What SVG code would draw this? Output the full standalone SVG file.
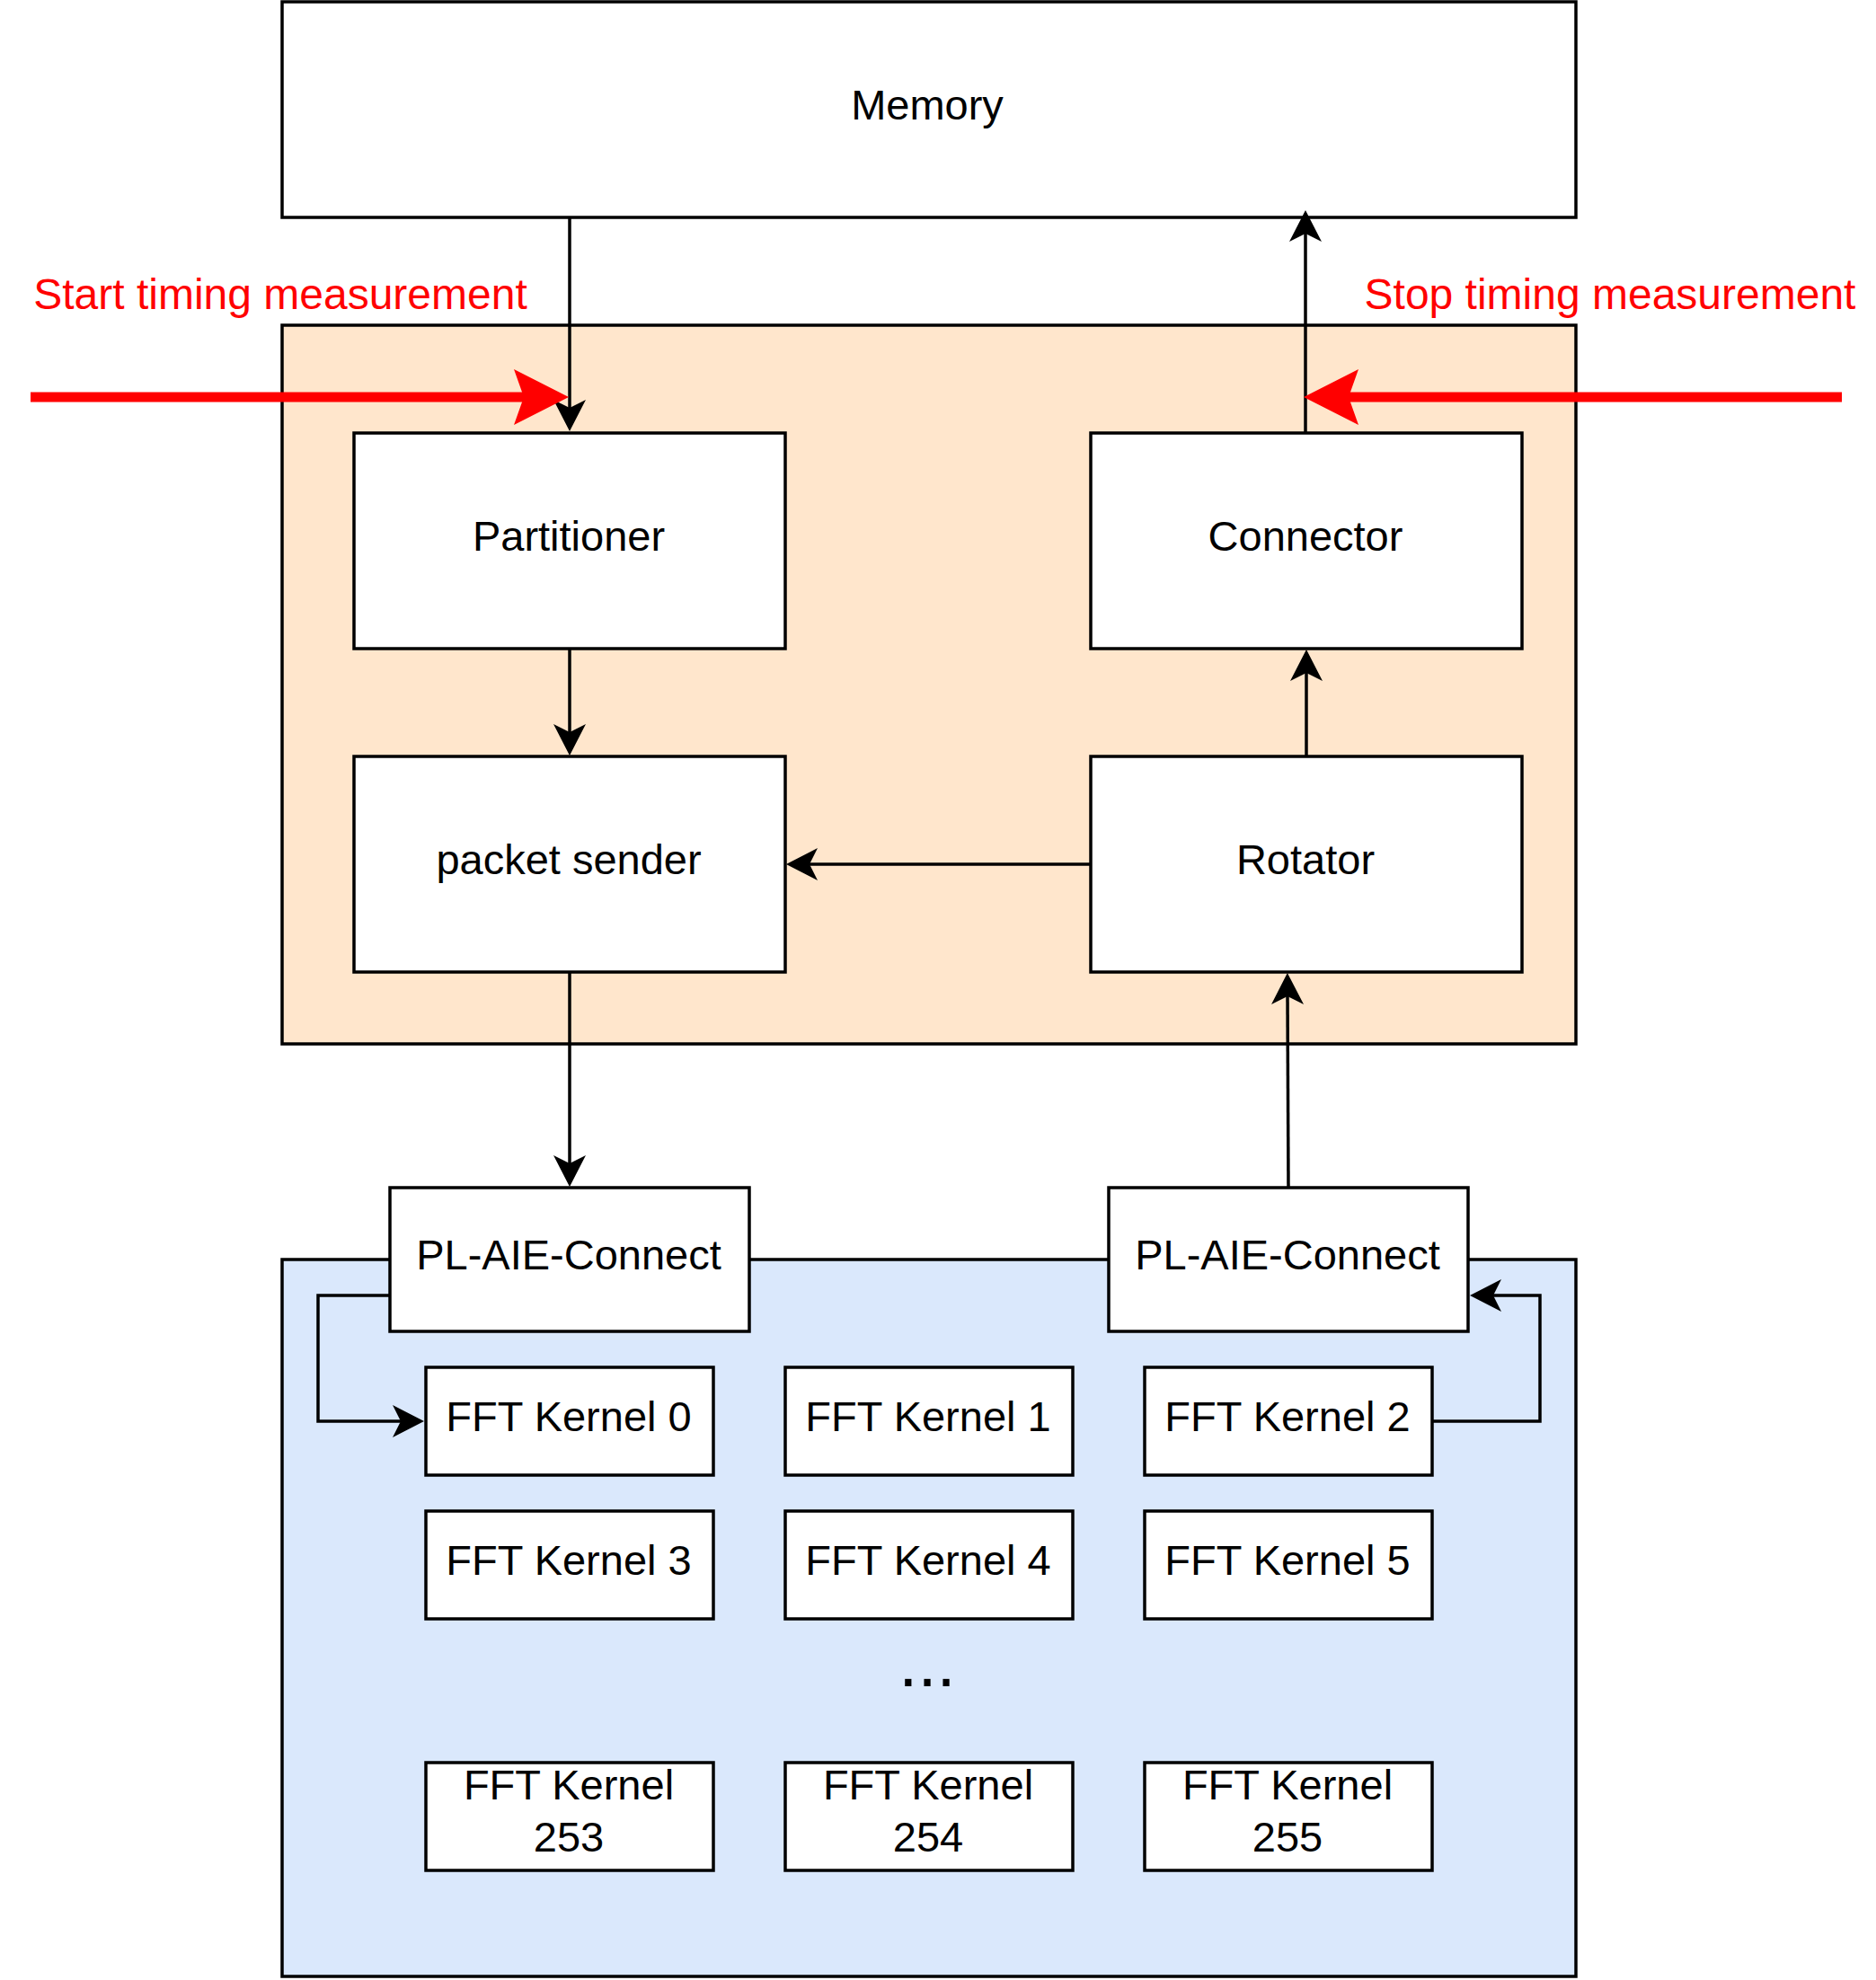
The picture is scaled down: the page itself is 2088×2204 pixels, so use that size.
<svg xmlns="http://www.w3.org/2000/svg" width="2088" height="2204" viewBox="0 0 2088 2204">
  <style>
    .box { fill: #ffffff; stroke: #000000; stroke-width: 3.5; }
    .peach { fill: #FFE6CC; stroke: #000000; stroke-width: 3.5; }
    .blue { fill: #DAE8FC; stroke: #000000; stroke-width: 3.5; }
    .lbl { font-family: "Liberation Sans", Arial, Helvetica, sans-serif; font-size: 47px; fill: #000000; text-anchor: middle; }
    .red { font-family: "Liberation Sans", Arial, Helvetica, sans-serif; font-size: 48px; fill: #FF0000; text-anchor: middle; }
    .edge { fill: none; stroke: #000000; stroke-width: 3.5; marker-end: url(#ah); }
    .redge { fill: none; stroke: #FF0000; stroke-width: 11; marker-end: url(#rah); }
  </style>
  <defs>
    <marker id="ah" markerUnits="userSpaceOnUse" markerWidth="44" markerHeight="44" viewBox="-38 -22 44 44" refX="-26" refY="0" orient="auto">
      <path d="M0,0 L-35,-18 L-26,0 L-35,18 Z" fill="#000000"/>
    </marker>
    <marker id="rah" markerUnits="userSpaceOnUse" markerWidth="70" markerHeight="70" viewBox="-64 -35 70 70" refX="-50" refY="0" orient="auto">
      <path d="M0,0 L-61,-31 L-50,0 L-61,31 Z" fill="#FF0000"/>
    </marker>
  </defs>

  <g id="pl-container">
    <rect class="peach" x="314" y="362" width="1440" height="800"/>
  </g>
  <g id="aie-container">
    <rect class="blue" x="314" y="1402" width="1440" height="798"/>
  </g>

  <g id="memory">
    <rect class="box" x="314" y="2" width="1440" height="240"/>
    <text class="lbl" x="1032" y="133">Memory</text>
  </g>
  <g id="partitioner">
    <rect class="box" x="394" y="482" width="480" height="240"/>
    <text class="lbl" x="633" y="613">Partitioner</text>
  </g>
  <g id="connector">
    <rect class="box" x="1214" y="482" width="480" height="240"/>
    <text class="lbl" x="1453" y="613">Connector</text>
  </g>
  <g id="packet-sender">
    <rect class="box" x="394" y="842" width="480" height="240"/>
    <text class="lbl" x="633" y="973">packet sender</text>
  </g>
  <g id="rotator">
    <rect class="box" x="1214" y="842" width="480" height="240"/>
    <text class="lbl" x="1453" y="973">Rotator</text>
  </g>
  <g id="pl-aie-connect-left">
    <rect class="box" x="434" y="1322" width="400" height="160"/>
    <text class="lbl" x="633" y="1413">PL-AIE-Connect</text>
  </g>
  <g id="pl-aie-connect-right">
    <rect class="box" x="1234" y="1322" width="400" height="160"/>
    <text class="lbl" x="1433" y="1413">PL-AIE-Connect</text>
  </g>

  <g id="fft-0"><rect class="box" x="474" y="1522" width="320" height="120"/><text class="lbl" x="633" y="1593">FFT Kernel 0</text></g>
  <g id="fft-1"><rect class="box" x="874" y="1522" width="320" height="120"/><text class="lbl" x="1033" y="1593">FFT Kernel 1</text></g>
  <g id="fft-2"><rect class="box" x="1274" y="1522" width="320" height="120"/><text class="lbl" x="1433" y="1593">FFT Kernel 2</text></g>
  <g id="fft-3"><rect class="box" x="474" y="1682" width="320" height="120"/><text class="lbl" x="633" y="1753">FFT Kernel 3</text></g>
  <g id="fft-4"><rect class="box" x="874" y="1682" width="320" height="120"/><text class="lbl" x="1033" y="1753">FFT Kernel 4</text></g>
  <g id="fft-5"><rect class="box" x="1274" y="1682" width="320" height="120"/><text class="lbl" x="1433" y="1753">FFT Kernel 5</text></g>
  <g id="ellipsis"><text class="lbl" x="1032" y="1877" style="font-size:76px">...</text></g>
  <g id="fft-253"><rect class="box" x="474" y="1962" width="320" height="120"/><text class="lbl" x="633" y="2003">FFT Kernel</text><text class="lbl" x="633" y="2061">253</text></g>
  <g id="fft-254"><rect class="box" x="874" y="1962" width="320" height="120"/><text class="lbl" x="1033" y="2003">FFT Kernel</text><text class="lbl" x="1033" y="2061">254</text></g>
  <g id="fft-255"><rect class="box" x="1274" y="1962" width="320" height="120"/><text class="lbl" x="1433" y="2003">FFT Kernel</text><text class="lbl" x="1433" y="2061">255</text></g>

  <g id="connectors">
    <path class="edge" d="M634,242 V454"/>
    <path class="edge" d="M1453,482 V260"/>
    <path class="edge" d="M634,722 V815"/>
    <path class="edge" d="M1454,842 V749"/>
    <path class="edge" d="M1214,962 H901"/>
    <path class="edge" d="M634,1082 V1295"/>
    <path class="edge" d="M1434,1322 L1433,1109"/>
    <path class="edge" d="M434,1442 H354 V1582 H446"/>
    <path class="edge" d="M1594,1582 H1714 V1442 H1662"/>
  </g>

  <g id="timing-markers">
    <path class="redge" d="M34,442 H583"/>
    <path class="redge" d="M2050,442 H1501"/>
    <text class="red" x="312" y="344">Start timing measurement</text>
    <text class="red" x="1792" y="344">Stop timing measurement</text>
  </g>
</svg>
